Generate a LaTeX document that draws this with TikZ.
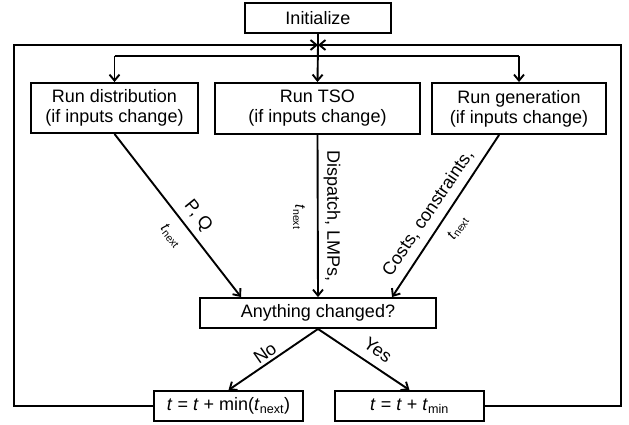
\documentclass[tikz,border=0pt]{standalone}
\usepackage{fontspec}
\setmainfont{Liberation Sans}
\usetikzlibrary{arrows.meta,calc}
\newcommand{\tnext}{\textit{t}\textsubscript{next}}
\begin{document}
\begin{tikzpicture}[x=1pt,y=-1pt,line width=1.9pt,
  box/.style={draw,line width=1.9pt,inner sep=0pt,align=center,font=\fontsize{18}{20}\selectfont},
  arr/.style={-{Straight Barb[length=6pt,width=10pt,line width=1.9pt]}},
  lab/.style={font=\fontsize{18}{20}\selectfont,inner sep=0pt},
  slab/.style={font=\fontsize{15}{17}\selectfont,inner sep=0pt}]
\useasboundingbox (0,0) rectangle (629,424);
\node[box,minimum width=146pt,minimum height=30pt] (init) at (318,18) {Initialize};
\node[box,minimum width=167pt,minimum height=50pt] (dist) at (114.5,108) {Run distribution\\(if inputs change)};
\node[box,minimum width=205pt,minimum height=51pt] (tso) at (317.5,108.5) {Run TSO\\(if inputs change)};
\node[box,minimum width=174pt,minimum height=51pt] (gen) at (519,108.5) {Run generation\\(if inputs change)};
\node[box,minimum width=236pt,minimum height=30pt] (any) at (318,313) {Anything changed?};
\node[box,minimum width=149pt,minimum height=30pt] (no) at (228.5,406) {\textit{t} = \textit{t} + min(\tnext)};
\node[box,minimum width=149pt,minimum height=30pt] (yes) at (409.5,406) {\textit{t} = \textit{t} + \textit{t}\textsubscript{min}};
% loop
\coordinate (J) at (318,45);
\coordinate (J2) at (318,56);
\coordinate (lb) at (14,406);
\coordinate (lt) at (14,45);
\coordinate (rb) at (621,406);
\coordinate (rt) at (621,45);
\draw[arr] (no.west) -- (lb) -- (lt) -- (J);
\draw[arr] (yes.east) -- (rb) -- (rt) -- (J);
\draw (init.south) -- (J);
\draw[arr] (J) -- (tso.north);
\draw (dist.north |- J2) -- (gen.north |- J2);
\draw[arr] (dist.north |- J2) -- (dist.north);
\draw[arr] (gen.north |- J2) -- (gen.north);
% to anything
\coordinate (a1) at ($(any.north west)+(42,0)$);
\coordinate (a3) at ($(any.north west)+(193,0)$);
\coordinate (g1) at ($(gen.south west)+(68,0)$);
\draw[arr] (dist.south) -- (a1);
\draw[arr] (tso.south) -- (any.north);
\draw[arr] (g1) -- (a3);
\draw[arr] (any.south) -- (no.north);
\draw[arr] (any.south) -- (yes.north);
% labels
\node[lab,rotate=-51] (lpq) at (198,216) {P, Q};
\node[slab,rotate=-51] (ltn1) at (171,236) {\tnext};
\node[lab,rotate=-90] (ldl) at (332,216) {Dispatch, LMPs,};
\node[slab,rotate=-90] (ltn2) at (299,217) {\tnext};
\node[lab,rotate=56] (lcc) at (428,213) {Costs, constraints,};
\node[slab,rotate=56] (ltn3) at (458,228) {\tnext};
\node[lab,rotate=35] (lno) at (265,353) {No};
\node[lab,rotate=-35] (lyes) at (378,350) {Yes};
\end{tikzpicture}
\end{document}
